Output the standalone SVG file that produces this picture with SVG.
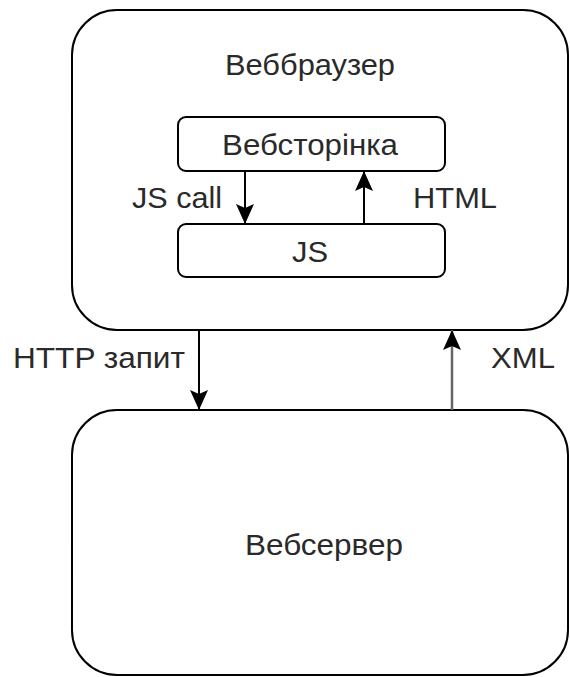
<svg xmlns="http://www.w3.org/2000/svg" width="570" height="677" viewBox="0 0 570 677">
  <defs>
    <marker id="arrow" markerUnits="userSpaceOnUse" markerWidth="22" markerHeight="20" refX="20" refY="9" orient="auto">
      <path d="M0,0 L20,9 L0,18 L4,9 Z" fill="#000"/>
    </marker>
    <style>
      .box { fill: #fff; stroke: #000; stroke-width: 2; }
      .lbl { font-family: "Liberation Sans", Arial, sans-serif; font-size: 30px; fill: #2a2a2a; }
      .conn { stroke: #000; stroke-width: 2; fill: none; marker-end: url(#arrow); }
      .grey { stroke: #666; stroke-width: 2.5; }
    </style>
  </defs>
  <rect width="570" height="677" fill="#fff"/>

  <g id="browser">
    <rect class="box" x="72" y="10" width="496" height="320" rx="45" ry="45"/>
    <text class="lbl" x="225" y="75" textLength="170" lengthAdjust="spacingAndGlyphs">Веббраузер</text>
  </g>

  <g id="webpage">
    <rect class="box" x="178" y="117" width="267" height="54" rx="8" ry="8"/>
    <text class="lbl" x="222" y="155" textLength="176" lengthAdjust="spacingAndGlyphs">Вебсторінка</text>
  </g>

  <g id="js">
    <rect class="box" x="178" y="224" width="267" height="53" rx="8" ry="8"/>
    <text class="lbl" x="292" y="262" textLength="36" lengthAdjust="spacingAndGlyphs">JS</text>
  </g>

  <g id="server">
    <rect class="box" x="72" y="410" width="496" height="265" rx="45" ry="45"/>
    <text class="lbl" x="245" y="555" textLength="158" lengthAdjust="spacingAndGlyphs">Вебсервер</text>
  </g>

  <g id="connectors">
    <line class="conn" x1="245" y1="171" x2="245" y2="224"/>
    <line class="conn" x1="364" y1="224" x2="364" y2="171"/>
    <line class="conn" x1="199" y1="330" x2="199" y2="410"/>
    <line class="conn grey" x1="452" y1="410" x2="452" y2="330"/>
    <text class="lbl" x="132" y="208" textLength="90" lengthAdjust="spacingAndGlyphs">JS call</text>
    <text class="lbl" x="413" y="208" textLength="84" lengthAdjust="spacingAndGlyphs">HTML</text>
    <text class="lbl" x="13" y="368" textLength="172" lengthAdjust="spacingAndGlyphs">HTTP запит</text>
    <text class="lbl" x="491" y="368" textLength="64" lengthAdjust="spacingAndGlyphs">XML</text>
  </g>
</svg>
